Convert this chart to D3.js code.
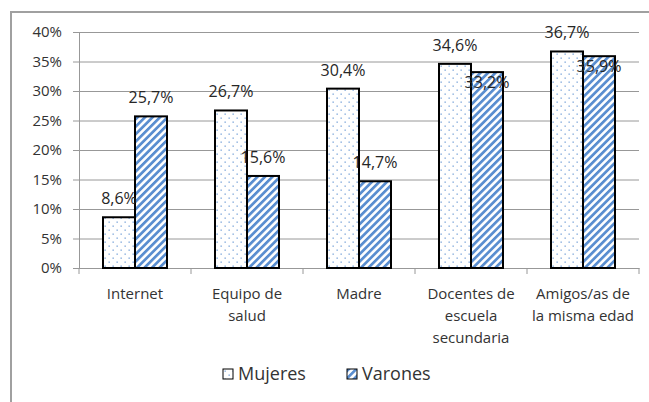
<!DOCTYPE html>
<html>
<head>
<meta charset="utf-8">
<script src="https://cdn.jsdelivr.net/npm/d3@7"></script>
<style>
  html, body { margin: 0; padding: 0; background: #fff; }
  svg { display: block; }
</style>
</head>
<body>
<figure id="chart" style="margin:0"></figure>
<script>
// values
const categories = [
  ['Internet'],
  ['Equipo de', 'salud'],
  ['Madre'],
  ['Docentes de', 'escuela', 'secundaria'],
  ['Amigos/as de', 'la misma edad']
];
const seriesNames = ['Mujeres', 'Varones'];
const mujeres = [8.6, 26.7, 30.4, 34.6, 36.7];
const varones = [25.7, 15.6, 14.7, 33.2, 35.9];
const yTicks = [0, 5, 10, 15, 20, 25, 30, 35, 40];

const width = 649;
const height = 402;
const margin = { top: 32, right: 10, bottom: 134, left: 79 };
const plotRight = 639;
const barWidth = 32;
const blue = '#5a8ed0';
const gridColor = '#989898';
const font = '"Open Sans", sans-serif';
const textColor = '#333';

const svg = d3.select('figure#chart')
  .append('svg')
  .attr('width', width)
  .attr('height', height)
  .attr('font-family', font);

const defs = svg.append('defs');

// dotted fill for Mujeres
const dots = defs.append('pattern')
  .attr('id', 'dots')
  .attr('patternUnits', 'userSpaceOnUse')
  .attr('width', 8)
  .attr('height', 8);
dots.append('rect').attr('width', 8).attr('height', 8).attr('fill', '#fff');
dots.append('rect').attr('x', 1.5).attr('y', 1.5).attr('width', 1.3).attr('height', 1.3).attr('fill', blue).attr('opacity', 0.85);
dots.append('rect').attr('x', 5.5).attr('y', 5.5).attr('width', 1.3).attr('height', 1.3).attr('fill', blue).attr('opacity', 0.85);

// wide upward diagonal for Varones
const stripes = defs.append('pattern')
  .attr('id', 'stripes')
  .attr('patternUnits', 'userSpaceOnUse')
  .attr('width', 5.3)
  .attr('height', 10)
  .attr('patternTransform', 'rotate(45)');
stripes.append('rect').attr('width', 5.3).attr('height', 10).attr('fill', '#fff');
stripes.append('rect').attr('width', 2.7).attr('height', 10).attr('fill', blue);

const fills = ['url(#dots)', 'url(#stripes)'];

// outer chart frame
svg.append('rect')
  .attr('x', 11)
  .attr('y', 12)
  .attr('width', width + 20)
  .attr('height', height + 20)
  .attr('fill', 'none')
  .attr('stroke', '#a0a0a0')
  .attr('stroke-width', 2);

const x = d3.scaleBand()
  .domain(d3.range(categories.length))
  .range([margin.left, plotRight])
  .padding(0);

const y = d3.scaleLinear()
  .domain([0, 40])
  .range([height - margin.bottom, margin.top]);

// y axis with gridlines
const yAxis = g => g
  .attr('transform', `translate(${margin.left},0)`)
  .call(d3.axisLeft(y).tickValues(yTicks).tickFormat(d => d + '%').tickSize(6).tickPadding(11))
  .call(g => g.select('.domain').attr('stroke', gridColor))
  .call(g => g.selectAll('.tick line').attr('stroke', gridColor))
  .call(g => g.selectAll('.tick line').clone()
    .attr('x1', 0)
    .attr('x2', plotRight - margin.left)
    .attr('stroke', gridColor))
  .call(g => g.selectAll('.tick text')
    .attr('fill', textColor)
    .attr('font-size', 15)
    .attr('font-family', font));

svg.append('g').call(yAxis);

// x axis baseline and category tick marks
const xAxis = g => g
  .attr('transform', `translate(0,${y(0)})`)
  .call(d3.axisBottom(x).tickValues([]).tickSizeOuter(0))
  .call(g => g.select('.domain').attr('stroke', gridColor));

svg.append('g').call(xAxis);

svg.append('g')
  .selectAll('line')
  .data(d3.range(categories.length + 1))
  .join('line')
  .attr('x1', i => margin.left + i * x.step())
  .attr('x2', i => margin.left + i * x.step())
  .attr('y1', y(0))
  .attr('y2', y(0) + 6)
  .attr('stroke', gridColor);

// category labels
svg.append('g')
  .attr('font-size', 15)
  .attr('fill', textColor)
  .attr('text-anchor', 'middle')
  .selectAll('text')
  .data(categories)
  .join('text')
  .attr('x', (d, i) => x(i) + x.bandwidth() / 2)
  .attr('y', y(0) + 31)
  .selectAll('tspan')
  .data(d => d)
  .join('tspan')
  .attr('x', function () { return this.parentNode.getAttribute('x'); })
  .attr('dy', (d, j) => j === 0 ? 0 : 22)
  .text(d => d);

// bars
const rows = categories.map((c, i) => [mujeres[i], varones[i]]);

const groups = svg.append('g')
  .selectAll('g')
  .data(rows)
  .join('g')
  .attr('transform', (d, i) => `translate(${x(i) + x.bandwidth() / 2 - barWidth},0)`);

groups.selectAll('rect')
  .data(d => d)
  .join('rect')
  .attr('x', (d, k) => k * barWidth)
  .attr('y', d => y(d))
  .attr('width', barWidth)
  .attr('height', d => y(0) - y(d))
  .attr('fill', (d, k) => fills[k])
  .attr('stroke', '#000')
  .attr('stroke-width', 2);

// data labels; a Varones label that would collide with its Mujeres label drops below the bar top
const fmt = v => d3.format('.1f')(v).replace('.', ',') + '%';
groups.selectAll('text')
  .data(d => d.map((v, k) => ({ v, k, other: d[1 - k] })))
  .join('text')
  .attr('x', d => d.k * barWidth + barWidth / 2)
  .attr('y', d => {
    if (d.k === 1 && Math.abs(y(d.v) - y(d.other)) < 18) return y(d.v) + 16;
    return y(d.v) - 13;
  })
  .attr('text-anchor', 'middle')
  .attr('font-size', 16)
  .attr('fill', '#262626')
  .text(d => fmt(d.v));

// legend
const legend = svg.append('g')
  .attr('font-size', 18)
  .attr('fill', textColor)
  .selectAll('g')
  .data(seriesNames)
  .join('g')
  .attr('transform', (d, k) => `translate(${223 + k * 124},369)`);

legend.append('rect')
  .attr('width', 10)
  .attr('height', 10)
  .attr('fill', (d, k) => fills[k])
  .attr('stroke', '#000')
  .attr('stroke-width', 1);

legend.append('text')
  .attr('x', 15)
  .attr('y', 11)
  .text(d => d);
</script>
</body>
</html>
